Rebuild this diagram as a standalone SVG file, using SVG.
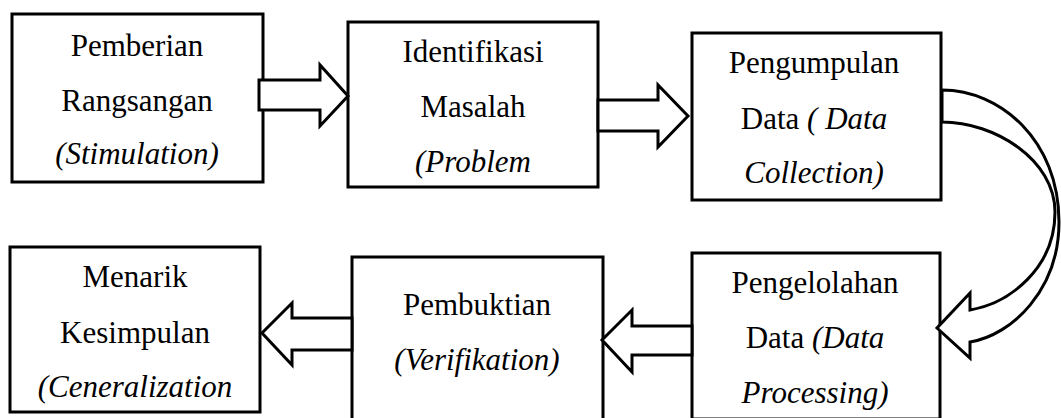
<svg xmlns="http://www.w3.org/2000/svg" width="1061" height="418" viewBox="0 0 1061 418">
<style>
.box{fill:#fff;stroke:#000;stroke-width:3}
.arr{fill:#fff;stroke:#000;stroke-width:3;stroke-linejoin:miter}
.t{font-family:'Liberation Serif','Times New Roman',serif;font-size:31px;fill:#000;text-anchor:middle}
.i{font-style:italic}
</style>
<rect width="1061" height="418" fill="#fff"/>
<g id="n1"><rect class="box" x="12" y="14" width="251" height="168"/>
<text class="t" x="137" y="56">Pemberian</text><text class="t" x="137" y="111">Rangsangan</text><text class="t i" x="137" y="164">(Stimulation)</text></g>
<g id="n2"><rect class="box" x="348" y="22" width="250" height="165"/>
<text class="t" x="473" y="62">Identifikasi</text><text class="t" x="473" y="117">Masalah</text><text class="t i" x="473" y="172">(Problem</text></g>
<g id="n3"><rect class="box" x="692" y="33" width="249" height="167"/>
<text class="t" x="814" y="73">Pengumpulan</text><text class="t" x="814" y="129">Data <tspan class="i">( Data</tspan></text><text class="t i" x="814" y="183">Collection)</text></g>
<g id="n4"><rect class="box" x="10" y="247" width="250" height="165"/>
<text class="t" x="135" y="287">Menarik</text><text class="t" x="135" y="343">Kesimpulan</text><text class="t i" x="135" y="397">(Ceneralization</text></g>
<g id="n5"><rect class="box" x="352" y="257" width="251" height="175"/>
<text class="t" x="477" y="315">Pembuktian</text><text class="t i" x="477" y="370">(Verifikation)</text></g>
<g id="n6"><rect class="box" x="692" y="253" width="248" height="166"/>
<text class="t" x="815" y="293">Pengelolahan</text><text class="t" x="815" y="348">Data <tspan class="i">(Data</tspan></text><text class="t i" x="815" y="403">Processing)</text></g>
<g id="connectors">
<polygon class="arr" points="259,80 320,80 320,65 348,96 320,126 320,110 259,110"/>
<polygon class="arr" points="598,100 658,100 658,85 688,116 658,147 658,131 598,131"/>
<path class="arr" d="M942,90 C1000,90 1059,140 1059,222 C1059,290 1012,335 970,342 L970,358 L937,328 L970,293 L970,310 C1010,303 1055,268 1055,212 C1055,160 995,122 942,122 Z"/>
<polygon class="arr" points="692,326 632,326 632,310 602,340 632,372 632,355 692,355"/>
<polygon class="arr" points="352,318 292,318 292,303 262,333 292,365 292,350 352,350"/>
</g>
</svg>
